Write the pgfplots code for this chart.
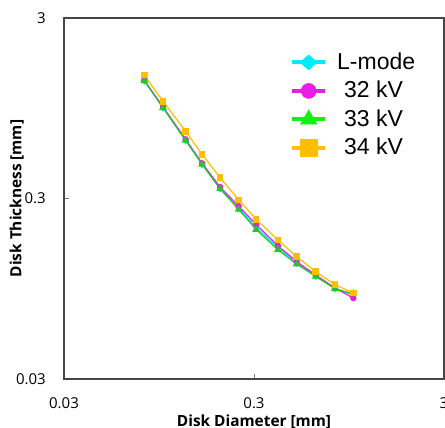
\documentclass[border=0pt]{standalone}
\usepackage{fontspec}
\setmainfont{Open Sans}
\newfontfamily\legfont{Liberation Sans}
\usepackage{pgfplots}
\pgfplotsset{compat=1.18}
\usetikzlibrary{calc}
\definecolor{cLm}{RGB}{0,235,250}
\definecolor{c32}{RGB}{232,30,228}
\definecolor{c33}{RGB}{20,240,20}
\definecolor{c34}{RGB}{255,190,0}
\definecolor{axc}{RGB}{70,70,70}
\begin{document}
\begin{tikzpicture}
\begin{axis}[
  name=ax,
  xmode=log, ymode=log,
  scale only axis, width=380pt, height=361pt,
  xmin=0.03, xmax=3, ymin=0.03, ymax=3,
  xtick={0.03,0.3,3}, xticklabels={0.03,0.3,3},
  ytick={0.03,0.3,3}, yticklabels={0.03,0.3,3},
  xminorticks=false, yminorticks=false,
  tick pos=left, tick align=inside,
  major tick length=5pt,
  tick style={gray, line width=0.8pt},
  axis line style={axc, line width=1.6pt},
  /pgf/number format/assume math mode=true,
  ticklabel style={font=\fontsize{15}{17}\selectfont, inner sep=0pt},
  xticklabel style={anchor=north, yshift=-18pt},
  yticklabel style={anchor=east, xshift=-18pt},
  xlabel={Disk Diameter [mm]},
  ylabel={Disk Thickness [mm]},
  label style={font=\bfseries\fontsize{15.4}{17}\selectfont, inner sep=0pt},
  xlabel style={at={(axis description cs:0.5,-0.0997)}, anchor=north},
  ylabel style={at={(axis description cs:-0.1053,0.5)}, anchor=south},
  legend image code/.code={\draw[mark repeat=2,mark phase=2,#1] plot coordinates {(0pt,0pt) (16.5pt,0pt) (33pt,0pt)};},
  legend style={at={(rel axis cs:0.5947,0.917)}, anchor=north west, draw=none, fill=none, inner sep=0pt,
    font=\legfont\fontsize{23}{27}\selectfont, row sep=0pt, column sep=0pt,
    nodes={inner sep=0pt, text height=21pt, text depth=7.5pt}},
  legend cell align=left,
]
\addplot[color=cLm, line width=1.2pt, mark=diamond*, mark size=3.2pt, mark options={solid}, forget plot] coordinates {
(0.0794,1.348) (0.0996,0.955) (0.131,0.630) (0.160,0.464) (0.199,0.341) (0.249,0.266)
(0.308,0.207) (0.401,0.160) (0.503,0.132) (0.634,0.112) (0.800,0.0955) (1.00,0.0873)};
\addplot[color=c32, line width=1.2pt, mark=*, mark size=2.6pt, mark options={solid}, forget plot] coordinates {
(0.0794,1.357) (0.0996,0.965) (0.131,0.638) (0.160,0.470) (0.199,0.347) (0.249,0.272)
(0.308,0.215) (0.401,0.164) (0.503,0.134) (0.634,0.113) (0.800,0.0957) (1.00,0.0842)};
\addplot[color=c33!80!black!90, line width=1.2pt, mark=triangle*, mark size=3.4pt, mark options={solid}, forget plot] coordinates {
(0.0794,1.348) (0.0996,0.955) (0.131,0.630) (0.160,0.464) (0.199,0.339) (0.249,0.261)
(0.308,0.202) (0.401,0.156) (0.503,0.130) (0.634,0.111) (0.800,0.0949) (1.00,0.0890)};
\addplot[color=c34, line width=1.2pt, mark=square*, mark size=2.7pt, mark options={solid}, forget plot] coordinates {
(0.0794,1.447) (0.0996,1.037) (0.131,0.707) (0.160,0.527) (0.199,0.391) (0.249,0.295)
(0.308,0.230) (0.401,0.177) (0.503,0.143) (0.634,0.118) (0.800,0.100) (1.00,0.0898)};
\addlegendimage{color=cLm, line width=4pt, mark=diamond*, mark size=7.5pt, mark options={solid, xscale=1.5, line width=0.5pt}}
\addlegendentry{\hspace*{10pt}L-mode}
\addlegendimage{color=c32, line width=4pt, mark=*, mark size=7.5pt, mark options={solid, line width=0.5pt}}
\addlegendentry{\hspace*{17pt}32 kV}
\addlegendimage{color=c33, line width=4pt, mark=triangle*, mark size=9.5pt, mark options={solid, line width=0.5pt}}
\addlegendentry{\hspace*{17pt}33 kV}
\addlegendimage{color=c34, line width=4pt, mark=square*, mark size=8.3pt, mark options={solid, line width=0.5pt}}
\addlegendentry{\hspace*{17pt}34 kV}
\end{axis}
\pgfresetboundingbox
\path[use as bounding box] ($(ax.south west)+(-64pt,-49pt)$) rectangle ($(ax.north east)+(1pt,18pt)$);
\end{tikzpicture}
\end{document}
